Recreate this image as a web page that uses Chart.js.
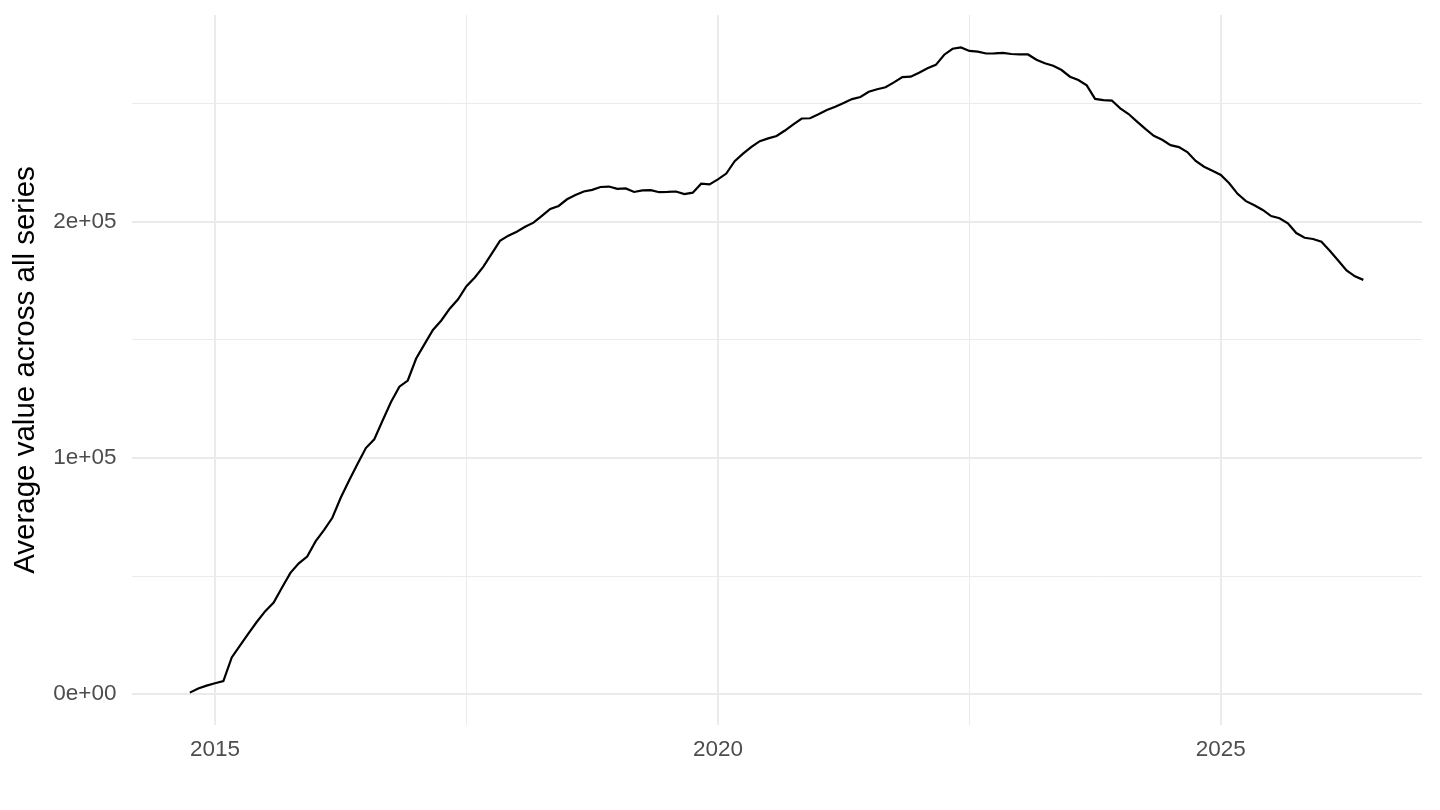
<!DOCTYPE html>
<html lang="en">
<head>
    <meta charset="UTF-8">
    <title>Average value across all series</title>
    <script src="https://cdn.jsdelivr.net/npm/chart.js"></script>
    <style>
        body { margin: 0; padding: 0; background: #fff; }
        .container { width: 1440px; height: 810px; }
    </style>
</head>
<body>
    <div class="container">
        <canvas id="myChart"></canvas>
    </div>

    <script>
        // monthly series, first point Oct 2014
        const startYear = 2014;
        const startMonth = 10;

        const values = [
            700, 2450, 3680, 4690, 5620, 15600, 20700, 25800, 30700, 35200,
            38800, 45200, 51400, 55400, 58300, 64700, 69500, 74700, 83200, 90500,
            97500, 104200, 107900, 115900, 123700, 130200, 132800, 142100, 148200, 154200,
            158200, 163200, 167200, 172700, 176400, 180900, 186400, 191900, 194100, 195800,
            197900, 199600, 202500, 205400, 206700, 209500, 211300, 212800, 213500, 214700,
            214900, 213900, 214100, 212600, 213300, 213400, 212500, 212600, 212800, 211700,
            212300, 216100, 215800, 217900, 220400, 225600, 228800, 231700, 234100, 235300,
            236300, 238600, 241200, 243700, 243800, 245500, 247300, 248700, 250300, 251900,
            252800, 255000, 256100, 256900, 259000, 261200, 261400, 263100, 265000, 266400,
            270700, 273200, 273800, 272300, 272000, 271200, 271300, 271500, 271000, 270800,
            270800, 268600, 267100, 266000, 264200, 261400, 260000, 257700, 252000, 251500,
            251300, 248000, 245600, 242400, 239300, 236400, 234700, 232400, 231600, 229500,
            225700, 223300, 221600, 219800, 216300, 211800, 208700, 207000, 205000, 202400,
            201500, 199300, 195200, 193200, 192700, 191500, 187700, 183600, 179400, 176900,
            175400
        ];

        const xTicks = [2015, 2017.5, 2020, 2022.5, 2025];
        const xLabels = [2015, 2020, 2025];
        const yTicks = [0, 50000, 100000, 150000, 200000, 250000];
        const yLabels = [0, 100000, 200000];

        const points = values.map((v, i) => ({
            x: startYear + (startMonth - 1 + i) / 12,
            y: v
        }));

        function sciLabel(v) {
            if (v === 0) return '0e+00';
            const exp = Math.floor(Math.log10(Math.abs(v)));
            const mant = Math.round(v / Math.pow(10, exp));
            return mant + 'e+' + String(exp).padStart(2, '0');
        }

        const gridColor = '#EBEBEB';
        const fontFamily = '"Liberation Sans", Arial, sans-serif';

        const ctx = document.getElementById('myChart').getContext('2d');
        window.myChart = new Chart(ctx, {
            type: 'line',
            data: {
                datasets: [{
                    data: points,
                    borderColor: '#000000',
                    borderWidth: 2.2,
                    pointRadius: 0,
                    tension: 0,
                    fill: false
                }]
            },
            options: {
                responsive: true,
                maintainAspectRatio: false,
                animation: false,
                layout: {
                    padding: { left: 0, right: 18, top: 15, bottom: 0 }
                },
                scales: {
                    x: {
                        type: 'linear',
                        min: 2014.17,
                        max: 2027.0,
                        afterBuildTicks: scale => {
                            scale.ticks = xTicks.map(v => ({ value: v }));
                        },
                        afterFit: scale => {
                            scale.height = 85;
                            scale.paddingLeft = 0;
                            scale.paddingRight = 0;
                        },
                        border: { display: false },
                        grid: {
                            drawTicks: false,
                            color: gridColor,
                            lineWidth: c => xLabels.includes(c.tick.value) ? 2 : 1
                        },
                        ticks: {
                            autoSkip: false,
                            maxRotation: 0,
                            padding: 11,
                            color: '#4D4D4D',
                            font: { family: fontFamily, size: 22.5 },
                            callback: v => xLabels.includes(v) ? String(v) : ''
                        }
                    },
                    y: {
                        type: 'linear',
                        min: -13000,
                        max: 287500,
                        afterBuildTicks: scale => {
                            scale.ticks = yTicks.map(v => ({ value: v }));
                        },
                        afterFit: scale => {
                            scale.width = 131.5;
                            scale.paddingTop = 0;
                            scale.paddingBottom = 0;
                        },
                        border: { display: false },
                        grid: {
                            drawTicks: false,
                            color: gridColor,
                            lineWidth: c => yLabels.includes(c.tick.value) ? 2 : 1
                        },
                        ticks: {
                            autoSkip: false,
                            padding: 15,
                            color: '#4D4D4D',
                            font: { family: fontFamily, size: 22.5 },
                            callback: v => yLabels.includes(v) ? sciLabel(v) : ''
                        },
                        title: {
                            display: true,
                            text: 'Average value across all series',
                            color: '#000000',
                            font: { family: fontFamily, size: 29.5 },
                            padding: { top: 8, bottom: 0 }
                        }
                    }
                },
                plugins: {
                    legend: { display: false },
                    tooltip: { enabled: false },
                    title: { display: false }
                }
            }
        });
    </script>
</body>
</html>
